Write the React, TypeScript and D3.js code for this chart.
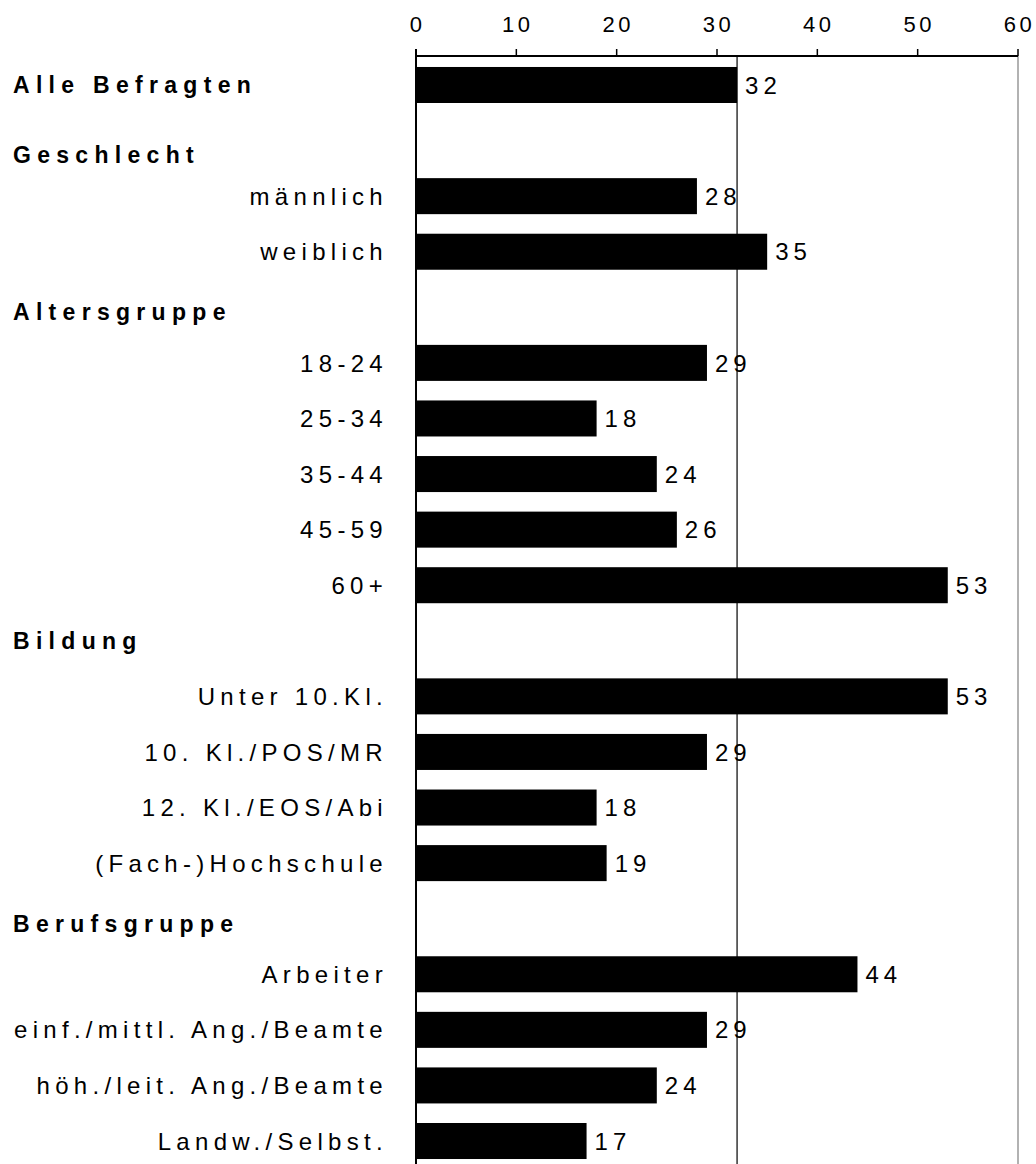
import React from "react";
import * as d3 from "d3";

const categories = [
  "Alle Befragten",
  "Geschlecht",
  "männlich",
  "weiblich",
  "Altersgruppe",
  "18-24",
  "25-34",
  "35-44",
  "45-59",
  "60+",
  "Bildung",
  "Unter 10.Kl.",
  "10. Kl./POS/MR",
  "12. Kl./EOS/Abi",
  "(Fach-)Hochschule",
  "Berufsgruppe",
  "Arbeiter",
  "einf./mittl. Ang./Beamte",
  "höh./leit. Ang./Beamte",
  "Landw./Selbst.",
];

const values: (number | null)[] = [
  32, null, 28, 35, null, 29, 18, 24, 26, 53, null, 53, 29, 18, 19, null, 44, 29, 24, 17,
];

const boldLabels = ["Alle Befragten", "Geschlecht", "Altersgruppe", "Bildung", "Berufsgruppe"];
const headerLabels = ["Geschlecht", "Altersgruppe", "Bildung", "Berufsgruppe"];

const xTicks = [0, 10, 20, 30, 40, 50, 60];
const referenceValue = 32;

const W = 1036;
const H = 1164;
const FONT = "'Liberation Sans', Arial, sans-serif";

// small visual nudges for the header labels (they sit below their row center)
const headerNudge: Record<string, number> = {
  Geschlecht: 14,
  Altersgruppe: 4,
  Bildung: 0,
  Berufsgruppe: 5,
};

export default function App() {
  const x = d3.scaleLinear().domain([0, 60]).range([416, 1018]);
  const y = d3
    .scaleBand<string>()
    .domain(categories)
    .range([57.2, 1168.8])
    .paddingInner(0.352)
    .paddingOuter(0.176);

  const axisY = 56;
  const bw = y.bandwidth();

  return (
    <svg
      width={W}
      height={H}
      style={{ position: "absolute", left: 0, top: 0, background: "#fff" }}
      fontFamily={FONT}
    >
      <rect x={0} y={0} width={W} height={H} fill="#fff" />
      {/* right border line */}
      <line x1={x(60)} x2={x(60)} y1={axisY} y2={H} stroke="#999" strokeWidth={1.5} />
      {/* reference line */}
      <line
        x1={x(referenceValue)}
        x2={x(referenceValue)}
        y1={axisY}
        y2={H}
        stroke="#000"
        strokeWidth={1.2}
      />
      {/* bars */}
      {categories.map((c, i) => {
        const v = values[i];
        if (v == null) return null;
        const y0 = y(c)!;
        return (
          <g key={c}>
            <rect x={x(0)} y={y0} width={x(v) - x(0)} height={bw} fill="#000" />
            <text
              x={x(v) + 8}
              y={y0 + bw / 2}
              dy="0.36em"
              fontSize={24}
              letterSpacing={5}
              fill="#000"
            >
              {v}
            </text>
          </g>
        );
      })}
      {/* left axis line */}
      <line x1={x(0)} x2={x(0)} y1={axisY - 7} y2={H} stroke="#000" strokeWidth={2} />
      {/* top axis */}
      <line x1={x(0)} x2={x(60)} y1={axisY} y2={axisY} stroke="#000" strokeWidth={2} />
      {xTicks.map((t) => (
        <g key={t}>
          <line x1={x(t)} x2={x(t)} y1={axisY - 7} y2={axisY} stroke="#000" strokeWidth={1.5} />
          <text
            x={x(t) + 1.5}
            y={32}
            textAnchor="middle"
            fontSize={22}
            letterSpacing={3.5}
            fill="#000"
          >
            {t}
          </text>
        </g>
      ))}
      {/* category labels */}
      {categories.map((c) => {
        const bold = boldLabels.includes(c);
        const isHeader = headerLabels.includes(c);
        const cy = y(c)! + bw / 2 + (isHeader ? headerNudge[c] : 0);
        return bold ? (
          <text
            key={c}
            x={13}
            y={cy}
            dy="0.36em"
            fontSize={23}
            fontWeight="bold"
            letterSpacing={6.3}
            fill="#000"
          >
            {c}
          </text>
        ) : (
          <text
            key={c}
            x={388}
            y={cy}
            dy="0.36em"
            textAnchor="end"
            fontSize={24}
            letterSpacing={5.3}
            fill="#000"
          >
            {c}
          </text>
        );
      })}
    </svg>
  );
}
